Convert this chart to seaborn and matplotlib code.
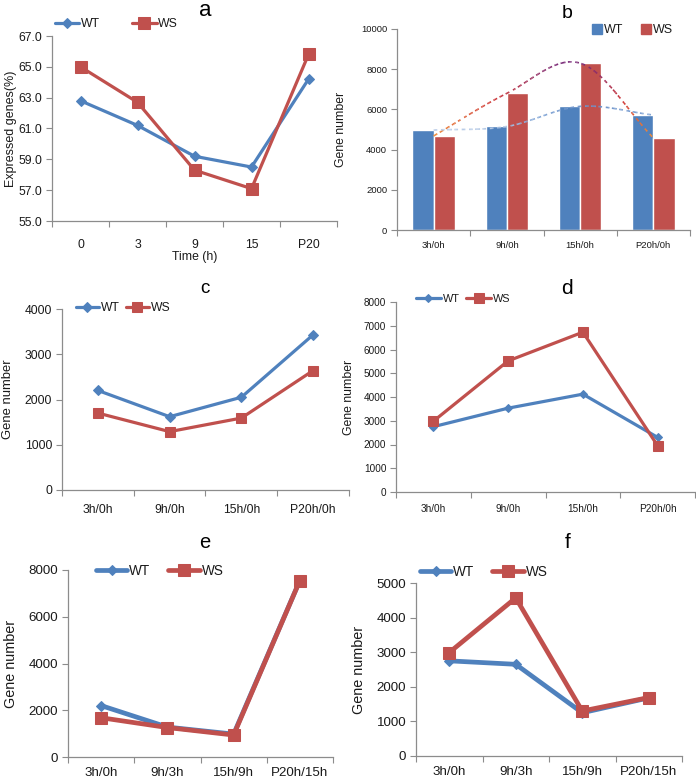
import numpy as np
import pandas as pd
import seaborn as sns
import matplotlib
matplotlib.use("Agg")
import matplotlib.pyplot as plt
from matplotlib.collections import LineCollection
from matplotlib.colors import LinearSegmentedColormap, Normalize
from matplotlib.ticker import FormatStrFormatter
from matplotlib.lines import Line2D

# ---------------- data ----------------
genotypes = ["WT", "WS"]
time_a = ["0", "3", "9", "15", "P20"]
a_wt = [62.8, 61.2, 59.2, 58.5, 64.2]
a_ws = [65.0, 62.7, 58.3, 57.1, 65.8]

ratio_cats = ["3h/0h", "9h/0h", "15h/0h", "P20h/0h"]
b_wt = [4970, 5150, 6150, 5720]
b_ws = [4680, 6800, 8300, 4580]

c_wt = [2200, 1620, 2050, 3430]
c_ws = [1700, 1290, 1590, 2640]

d_wt = [2750, 3530, 4120, 2300]
d_ws = [2980, 5520, 6730, 1950]

step_cats = ["3h/0h", "9h/3h", "15h/9h", "P20h/15h"]
e_wt = [2200, 1280, 980, 7550]
e_ws = [1680, 1260, 940, 7550]

f_wt = [2750, 2650, 1250, 1680]
f_ws = [2990, 4570, 1300, 1690]

# ---------------- style ----------------
sns.set_theme(style="white")
NORMAL = ["Liberation Sans", "DejaVu Sans"]
NARROW = ["Liberation Sans Narrow", "Liberation Sans", "DejaVu Sans"]
plt.rcParams["font.family"] = NORMAL
BLUE = "#4F81BD"
RED = "#C0504D"
GRAY = "#8c8c8c"
TXT = "#1a1a1a"

W, H = 696, 783
fig = plt.figure(figsize=(W / 100, H / 100), dpi=100)
fig.patch.set_facecolor("white")


def axbox(l, t, r, b):
    return fig.add_axes([l / W, 1 - b / H, (r - l) / W, (b - t) / H])


def style_axes(ax, cats, fs, family, ylim, yticks, ylabel, ylfs, ylfam, pad=6):
    n = len(cats)
    ax.set_xlim(-0.5, n - 0.5)
    ax.set_xticks(range(n))
    ax.set_xticklabels(cats, fontsize=fs, family=family, color=TXT)
    ax.set_xticks(np.arange(-0.5, n), minor=True)
    ax.tick_params(axis="x", which="major", length=0, pad=pad, bottom=True)
    ax.tick_params(axis="x", which="minor", length=4, width=0.8, color=GRAY,
                   direction="out", bottom=True)
    ax.set_ylim(*ylim)
    ax.set_yticks(yticks)
    ax.tick_params(axis="y", length=4, width=0.8, color=GRAY, direction="out",
                   left=True, labelsize=fs, pad=3)
    for lab in ax.get_yticklabels():
        lab.set_family(family)
        lab.set_color(TXT)
    for s in ["top", "right"]:
        ax.spines[s].set_visible(False)
    for s in ["left", "bottom"]:
        ax.spines[s].set_color(GRAY)
        ax.spines[s].set_linewidth(0.9)
    ax.set_xlabel("")
    ax.set_ylabel(ylabel, fontsize=ylfs, family=ylfam, color=TXT)
    ax.set_facecolor("white")


def line_panel(ax, cats, wt, ws, lw, ms_d, ms_s):
    x = np.arange(len(cats))
    sns.lineplot(x=x, y=wt, ax=ax, color=BLUE, lw=lw, marker="D", ms=ms_d,
                 markeredgecolor=BLUE, sort=False, label="WT")
    sns.lineplot(x=x, y=ws, ax=ax, color=RED, lw=lw, marker="s", ms=ms_s,
                 markeredgecolor=RED, sort=False, label="WS")


def place_legend(ax, x, y, fs, family, hl, cs, handles=None):
    if handles is None:
        handles, labels = ax.get_legend_handles_labels()
    else:
        labels = genotypes
    lg = ax.legend(handles, labels, ncol=2, loc="center left",
                   bbox_to_anchor=(x / W, 1 - y / H),
                   bbox_transform=fig.transFigure, frameon=False,
                   borderpad=0, borderaxespad=0, handlelength=hl,
                   handletextpad=0.15, columnspacing=cs,
                   prop={"family": family, "size": fs})
    for t in lg.get_texts():
        t.set_color(TXT)


def title(x, y, s, fs):
    fig.text(x / W, 1 - y / H, s, ha="center", va="baseline", fontsize=fs,
             color="black", family=NORMAL)


def catmull(xs, ys, n=60):
    P = np.column_stack([xs, ys]).astype(float)
    P = np.vstack([2 * P[0] - P[1], P, 2 * P[-1] - P[-2]])
    out = []
    t = np.linspace(0, 1, n, endpoint=False)[:, None]
    for i in range(1, len(P) - 2):
        p0, p1, p2, p3 = P[i - 1], P[i], P[i + 1], P[i + 2]
        out.append(0.5 * ((2 * p1) + (-p0 + p2) * t
                          + (2 * p0 - 5 * p1 + 4 * p2 - p3) * t ** 2
                          + (-p0 + 3 * p1 - 3 * p2 + p3) * t ** 3))
    out.append(P[-2][None, :])
    return np.vstack(out)


def gradient_dash(ax, xs, ys, cmap, vmin, vmax, lw=1.2, on=4.0, period=7.0):
    curve = catmull(xs, ys)
    disp = ax.transData.transform(curve)
    seg_len = np.hypot(*np.diff(disp, axis=0).T)
    s = np.concatenate([[0], np.cumsum(seg_len)])
    mids = 0.5 * (s[:-1] + s[1:])
    keep = (mids % period) < on
    segs = np.stack([curve[:-1], curve[1:]], axis=1)[keep]
    ymid = 0.5 * (curve[:-1, 1] + curve[1:, 1])[keep]
    norm = Normalize(vmin, vmax)
    lc = LineCollection(segs, colors=cmap(norm(ymid)), linewidths=lw,
                        zorder=5, capstyle="butt")
    ax.add_collection(lc)


# ---------------- panel a ----------------
ax = axbox(52, 36, 337, 221)
line_panel(ax, time_a, a_wt, a_ws, lw=2.3, ms_d=5, ms_s=8)
style_axes(ax, time_a, 8.8, NARROW, (55, 67), np.arange(55, 67.1, 2),
           "Expressed genes(%)", 9.0, NORMAL, pad=13)
ax.yaxis.set_major_formatter(FormatStrFormatter("%.1f"))
for lab in ax.get_yticklabels():
    lab.set_family(NARROW)
ax.yaxis.labelpad = 1
ax.set_xlabel("Time (h)", fontsize=8.8, family=NARROW, color=TXT, labelpad=0)
place_legend(ax, 55, 24, 8.8, NARROW, 2.0, 2.6)
title(205, 16, "a", 16)

# ---------------- panel b ----------------
ax = axbox(397, 29, 690, 230)
df_b = pd.DataFrame({
    "cat": ratio_cats * 2,
    "val": b_wt + b_ws,
    "geno": ["WT"] * len(ratio_cats) + ["WS"] * len(ratio_cats),
})
sns.barplot(data=df_b, x="cat", y="val", hue="geno", hue_order=genotypes,
            palette={"WT": BLUE, "WS": RED}, width=0.58, saturation=1,
            errorbar=None, ax=ax, zorder=2)
style_axes(ax, ratio_cats, 6.8, NORMAL, (0, 10000), np.arange(0, 10001, 2000),
           "Gene number", 8.8, NORMAL, pad=8)
ax.yaxis.labelpad = 10
xs_b = np.arange(len(ratio_cats))
cm_ws = LinearSegmentedColormap.from_list("ws", ["#f0913a", "#d03a3a", "#7a2a78"])
cm_wt = LinearSegmentedColormap.from_list("wt", ["#e8ecf4", "#8fb0dc", "#6f95cc"])
gradient_dash(ax, xs_b, b_ws, cm_ws, min(b_ws), max(b_ws))
gradient_dash(ax, xs_b, b_wt, cm_wt, min(b_wt) - 400, max(b_wt))
hb = [Line2D([], [], ls="", marker="s", ms=7, color=BLUE),
      Line2D([], [], ls="", marker="s", ms=7, color=RED)]
place_legend(ax, 592, 30, 9, NORMAL, 0.8, 1.4, handles=hb)
title(567, 18, "b", 14)

# ---------------- panel c ----------------
ax = axbox(62, 309, 349, 490)
line_panel(ax, ratio_cats, c_wt, c_ws, lw=2.3, ms_d=4.8, ms_s=7.5)
style_axes(ax, ratio_cats, 8.7, NORMAL, (0, 4000), np.arange(0, 4001, 1000),
           "Gene number", 9.4, NORMAL, pad=10)
ax.yaxis.labelpad = 8
place_legend(ax, 76, 308, 8.7, NORMAL, 1.9, 0.5)
title(205, 293, "c", 13.5)

# ---------------- panel d ----------------
ax = axbox(396, 302, 695, 492)
line_panel(ax, ratio_cats, d_wt, d_ws, lw=2.3, ms_d=4.4, ms_s=7)
style_axes(ax, ratio_cats, 7.2, NORMAL, (0, 8000), np.arange(0, 8001, 1000),
           "Gene number", 8.8, NORMAL, pad=9)
ax.yaxis.labelpad = 6
place_legend(ax, 416, 299, 7.8, NORMAL, 2.3, 0.6)
title(567, 294, "d", 15)

# ---------------- panel e ----------------
ax = axbox(68, 570, 333, 757)
line_panel(ax, step_cats, e_wt, e_ws, lw=3.4, ms_d=5.2, ms_s=8.5)
style_axes(ax, step_cats, 9.6, NORMAL, (0, 8000), np.arange(0, 8001, 2000),
           "Gene number", 10.4, NORMAL, pad=7.5)
ax.yaxis.labelpad = 8
place_legend(ax, 96, 571, 9.8, NORMAL, 2.3, 1.3)
title(205, 548, "e", 14.5)

# ---------------- panel f ----------------
ax = axbox(416, 583, 682, 756)
line_panel(ax, step_cats, f_wt, f_ws, lw=3.4, ms_d=5.2, ms_s=8.5)
style_axes(ax, step_cats, 9.6, NORMAL, (0, 5000), np.arange(0, 5001, 1000),
           "Gene number", 10.4, NORMAL, pad=7.5)
ax.yaxis.labelpad = 8
place_legend(ax, 420, 572, 9.8, NORMAL, 2.3, 1.3)
title(568, 548, "f", 15)

fig.savefig("out.png", dpi=100, facecolor="white")
